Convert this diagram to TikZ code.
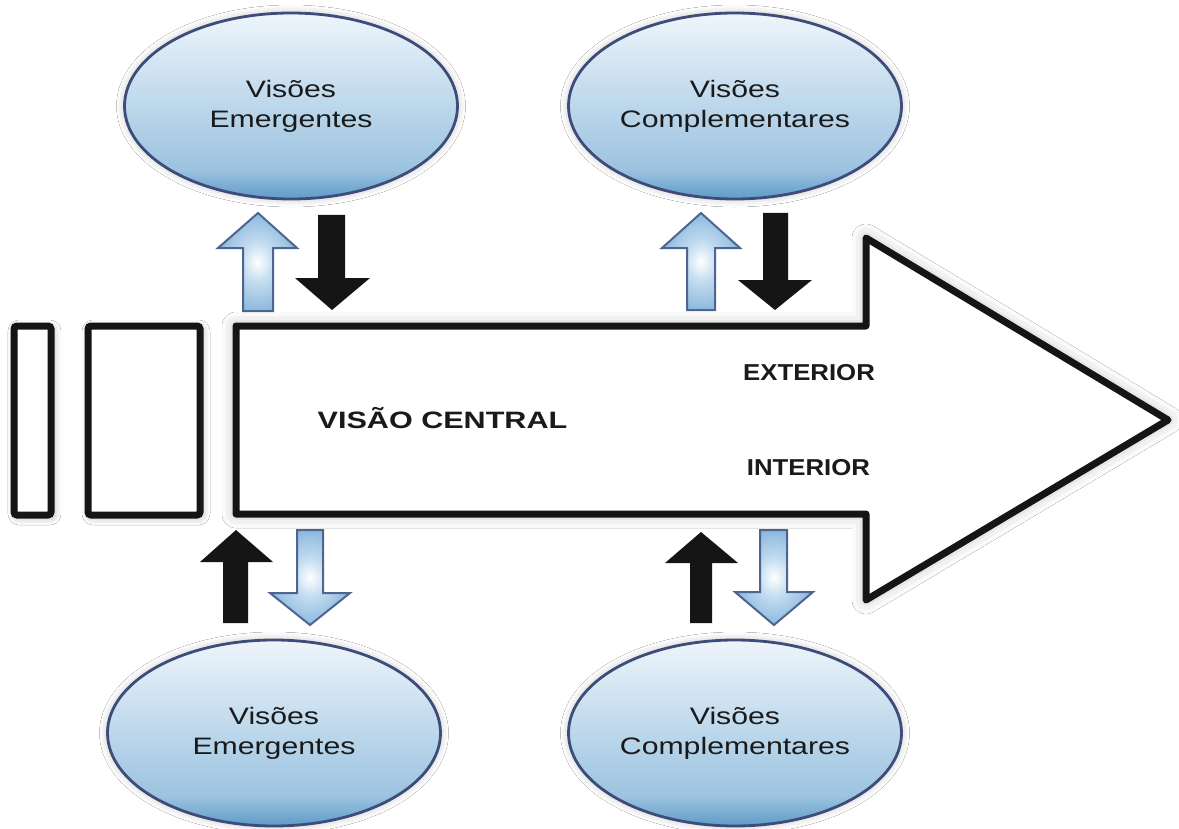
\documentclass[tikz,border=0pt]{standalone}
\usepackage{fontspec}
\setmainfont{Liberation Sans}
\newfontfamily\ellfont[FakeStretch=1.27]{Liberation Sans}
\newfontfamily\centfont[FakeStretch=1.29]{Liberation Sans}
\newfontfamily\sidefont[FakeStretch=1.12]{Liberation Sans}
\usetikzlibrary{shapes.geometric,shadows.blur}
\definecolor{elltop}{HTML}{EEF5FB}
\definecolor{ellmid}{HTML}{BCD7EB}
\definecolor{ellbot2}{HTML}{9CC3E0}
\definecolor{ellbot}{HTML}{5F9BC8}
\definecolor{ellline}{HTML}{3E4C7A}
\definecolor{abedge}{HTML}{8DB9DD}
\definecolor{abmid}{HTML}{C4DDF0}
\definecolor{abline}{HTML}{4F6591}
\definecolor{blk}{HTML}{151515}
\definecolor{txt}{HTML}{1A1A1A}
\pgfdeclareverticalshading{ellshade}{100bp}{color(0bp)=(ellbot); color(25bp)=(ellbot); color(33bp)=(ellbot2); color(50bp)=(ellmid); color(75bp)=(elltop); color(100bp)=(elltop)}
\pgfdeclareradialshading{glowshade}{\pgfpoint{0bp}{0bp}}{color(0bp)=(white); color(10bp)=(abmid); color(25bp)=(abedge); color(50bp)=(abedge)}
\begin{document}
\begin{tikzpicture}[x=0.5pt,y=-0.5pt,
  bigshape/.style={draw=blk, line width=3.5pt, fill=white, line join=round,
    blur shadow={shadow xshift=0pt, shadow yshift=0pt, shadow blur radius=7pt, shadow opacity=30}},
  bar/.style={draw=blk, line width=3.5pt, fill=white, rounded corners=1.5pt,
    blur shadow={shadow xshift=1pt, shadow yshift=-1pt, shadow blur radius=4pt, shadow opacity=35}},
  vision/.style={ellipse, draw=ellline, line width=1.4pt, shading=ellshade,
    minimum width=166.5pt, minimum height=93pt, inner sep=0pt, align=center,
    font=\ellfont\fontsize{11.9}{15}\selectfont, text=txt,
    blur shadow={shadow xshift=0pt, shadow yshift=0pt, shadow blur radius=4pt, shadow opacity=25}},
  lightarrow/.style={draw=abline, line width=1pt, shading=glowshade, line join=miter},
  darkarrow/.style={fill=blk, draw=none},
  maintext/.style={font=\centfont\bfseries\fontsize{11.85}{14}\selectfont, text=txt, anchor=base, inner sep=0pt},
  sidetext/.style={font=\sidefont\bfseries\fontsize{11.5}{14}\selectfont, text=txt, anchor=base, inner sep=0pt}
]
\useasboundingbox[fill=white] (0,0) rectangle (1179,829);

% left bars
\draw[bar] (14,326) rectangle (51,515);
\draw[bar] (88,326) rectangle (200,515);

% big arrow
\draw[bigshape] (236,326) -- (866,326) -- (866,238) -- (1168,420) -- (866,600) -- (866,514) -- (236,514) -- cycle;

% texts in big arrow
\node[maintext] (central) at (442.5,428) {VISÃO CENTRAL};
\node[sidetext] (ext) at (809,380) {EXTERIOR};
\node[sidetext] (int) at (808.5,475) {INTERIOR};

% ellipses
\node[vision] (emtop) at (291,106) {Visões\\Emergentes};
\node[vision] (comptop) at (735,106) {Visões\\Complementares};
\node[vision] (embot) at (274,733) {Visões\\Emergentes};
\node[vision] (compbot) at (735,733) {Visões\\Complementares};

% top-left arrows
\path[lightarrow] (258,213) -- (297,248) -- (273,248) -- (273,311) -- (243,311) -- (243,248) -- (218,248) -- cycle;
\path[darkarrow] (318,215) -- (345,215) -- (345,278) -- (370,278) -- (332,310) -- (295,278) -- (318,278) -- cycle;

% top-right arrows
\path[lightarrow] (701,213) -- (740,248) -- (715,248) -- (715,310) -- (687,310) -- (687,248) -- (662,248) -- cycle;
\path[darkarrow] (763,213) -- (788,213) -- (788,280) -- (812,280) -- (775,310) -- (738,280) -- (763,280) -- cycle;

% bottom-left arrows
\path[darkarrow] (236,530) -- (273,562) -- (248,562) -- (248,623) -- (223,623) -- (223,562) -- (200,562) -- cycle;
\path[lightarrow] (297,530) -- (323,530) -- (323,593) -- (350,593) -- (310,625) -- (270,593) -- (297,593) -- cycle;

% bottom-right arrows
\path[darkarrow] (701,532) -- (738,563) -- (712,563) -- (712,623) -- (690,623) -- (690,563) -- (665,563) -- cycle;
\path[lightarrow] (760,530) -- (787,530) -- (787,592) -- (813,592) -- (774,625) -- (735,592) -- (760,592) -- cycle;
\end{tikzpicture}
\end{document}
